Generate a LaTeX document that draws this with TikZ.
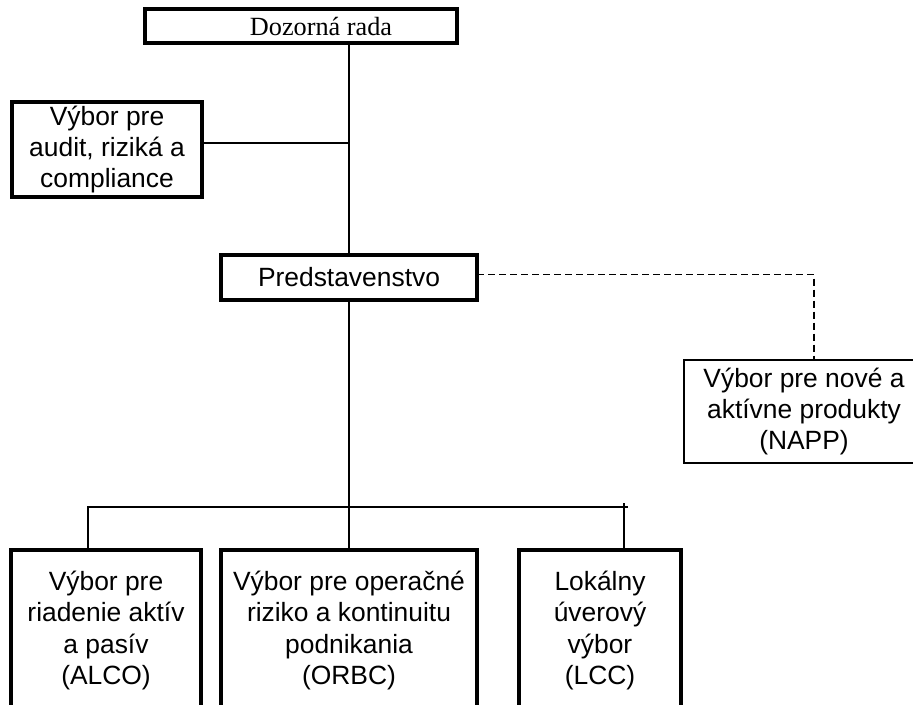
\documentclass[tikz,border=0pt]{standalone}
\usepackage{fontspec}
\setmainfont{Liberation Sans}
\newfontfamily\serifrm{Liberation Serif}
\usetikzlibrary{positioning}

\begin{document}
\begin{tikzpicture}[x=0.75pt,y=-0.75pt,line width=1.5pt,
    box/.style={draw,line width=2.6pt,outer sep=0pt,inner sep=0pt,align=center,
      font=\fontsize{19.8}{23.6}\selectfont},
    thin box/.style={box,line width=1.2pt},
    low box/.style={box,minimum height=120.75pt}]

  \useasboundingbox (0,0) rectangle (913,704);
  \clip (0,0) rectangle (913,704);

  \node[box,minimum width=234pt,minimum height=25.5pt,font=\serifrm\fontsize{19.7}{22}\selectfont] (doz) at (301,26) {\hspace*{30pt}Dozorná rada};
  \node[box,minimum width=142.5pt,minimum height=71.25pt] (audit) at (107,149.5) {Výbor pre\\audit, riziká a\\compliance};
  \node[box,minimum width=192pt,minimum height=33.75pt] (pred) at (349,277.5) {Predstavenstvo};
  \node[thin box,minimum width=180pt,minimum height=77.25pt] (napp) at (804,411.5) {Výbor pre nové a\\aktívne produkty\\(NAPP)};

  \node[low box,minimum width=142.5pt,anchor=north] (alco) at (106,550) {Výbor pre\\riadenie aktív\\a pasív\\(ALCO)};
  \node[low box,minimum width=192pt] (orbc) [right=15pt of alco.north east,anchor=north west] {Výbor pre operačné\\riziko a kontinuitu\\podnikania\\(ORBC)};
  \node[low box,minimum width=121.5pt] (lcc) [right=31.5pt of orbc.north east,anchor=north west] {Lokálny\\úverový\\výbor\\(LCC)};

  \coordinate (bus) at (349,507);

  \draw (pred.north) -- (pred.north |- doz.south);
  \draw ([shift={(0,-6.5)}]audit.east) -- ([shift={(0,-6.5)}]audit.east -| pred.north);
  \draw[line width=1.2pt,dash pattern=on 5.25pt off 3pt] ([shift={(0,-3)}]pred.east) -| ([shift={(10,0)}]napp.north);

  \draw (pred.south) -- (bus);
  \draw ([shift={(-18,0)}]alco.north) |- ([shift={(279,0)}]bus);
  \draw (bus) -- (orbc.north);
  \draw ([shift={(24,-47)}]lcc.north) -- ([shift={(24,0)}]lcc.north);
\end{tikzpicture}
\end{document}
